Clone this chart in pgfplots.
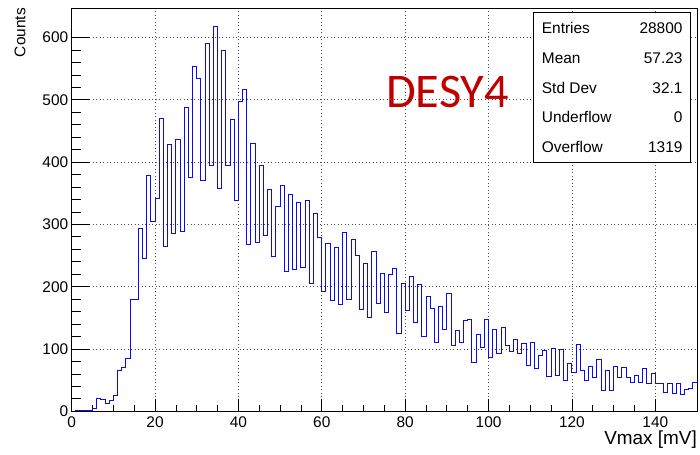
\documentclass[border=0pt]{standalone}
\usepackage{pgfplots}
\pgfplotsset{compat=1.18}
\usepackage{pgfplotstable}
\usepackage{fontspec}
\setmainfont{Liberation Sans}
\newfontfamily\carlito{Carlito}
\definecolor{histblue}{RGB}{10,10,235}
\definecolor{desyred}{RGB}{192,0,0}
\pgfplotstableread{
x y
0 0
1 1
2 1
3 2
4 1
5 5
6 21
7 19
8 13
9 17
10 25
11 65
12 70
13 85
14 179
15 179
16 294
17 245
18 378
19 304
20 341
21 470
22 264
23 428
24 286
25 437
26 288
27 488
28 375
29 553
30 534
31 370
32 590
33 394
34 618
35 358
36 580
37 394
38 468
39 339
40 498
41 517
42 268
43 430
44 271
45 394
46 283
47 356
48 248
49 328
50 362
51 225
52 348
53 228
54 335
55 231
56 338
57 205
58 317
59 279
60 193
61 270
62 178
63 263
64 172
65 287
66 180
67 275
68 250
69 163
70 237
71 150
72 257
73 173
74 221
75 158
76 220
77 229
78 125
79 205
80 162
81 216
82 142
83 203
84 120
85 184
86 165
87 110
88 168
89 132
90 189
91 105
92 129
93 111
94 146
95 148
96 79
97 124
98 102
99 148
100 87
101 132
102 92
103 134
104 106
105 96
106 116
107 92
108 109
109 74
110 111
111 69
112 90
113 97
114 56
115 101
116 58
117 100
118 50
119 77
120 62
121 107
122 66
123 50
124 72
125 55
126 83
127 33
128 66
129 33
130 72
131 55
132 70
133 55
134 47
135 57
136 46
137 68
138 45
139 60
140 45
141 45
142 30
143 44
144 28
145 45
146 27
147 35
148 36
149 46
150 46
}\histdata
\begin{document}
\begin{tikzpicture}[x=1bp,y=1bp]
\useasboundingbox (0,0) rectangle (700,455);
\begin{axis}[
  at={(71.7bp,43.7bp)}, anchor=south west,
  scale only axis, width=625.3bp, height=403bp,
  xmin=0, xmax=150, ymin=0, ymax=647,
  xtick={0,20,...,140}, minor x tick num=3,
  ytick={0,100,...,600}, yticklabels={},
  grid=major,
  major grid style={black!70, line width=0.7bp, dash pattern=on 1bp off 2.5bp},
  tick align=inside, xtick pos=bottom, ytick pos=left,
  major tick length=12bp, minor tick length=6bp,
  tick style={black, line width=0.8bp},
  ytick style={draw=none},
  xticklabel style={font=\fontsize{15.5}{15.5}\selectfont, yshift=-2bp},
  /pgf/number format/assume math mode=true,
  axis line style={line width=1bp},
]
\addplot[const plot mark left, histblue, line width=1bp, mark=none] table[x=x,y=y] {\histdata};
\end{axis}
\begin{axis}[
  at={(71.7bp,43.7bp)}, anchor=south west,
  scale only axis, width=625.3bp, height=403bp,
  xmin=0, xmax=150, ymin=0, ymax=647,
  xtick=\empty,
  ytick={0,100,...,600}, minor y tick num=4,
  tick align=inside, ytick pos=left,
  major tick length=18.75bp, minor tick length=9.4bp,
  tick style={black, line width=0.8bp},
  yticklabel style={font=\fontsize{15.5}{15.5}\selectfont},
  /pgf/number format/assume math mode=true,
  axis line style={line width=1bp},
]
\end{axis}
% axis titles
\node[rotate=90, anchor=east, inner sep=0pt, font=\fontsize{15.5}{15.5}\selectfont] at (20,447) {Counts};
\node[anchor=east, inner sep=0pt, font=\fontsize{19}{19}\selectfont] at (697,15) {Vmax [mV]};
% stats box
\filldraw[fill=white, draw=black, line width=1bp] (533,292) rectangle (690,442);
\begin{scope}[every node/.style={inner sep=0pt, font=\fontsize{15.5}{15.5}\selectfont}]
\node[anchor=base west] at (541.7,421.3) {Entries};
\node[anchor=base east] at (682.7,421.3) {28800};
\node[anchor=base west] at (541.7,391.6) {Mean};
\node[anchor=base east] at (682.7,391.6) {57.23};
\node[anchor=base west] at (541.7,361.9) {Std Dev};
\node[anchor=base east] at (682.7,361.9) {32.1};
\node[anchor=base west] at (541.7,332.2) {Underflow};
\node[anchor=base east] at (682.7,332.2) {0};
\node[anchor=base west] at (541.7,302.5) {Overflow};
\node[anchor=base east] at (682.7,302.5) {1319};
\end{scope}
\node[anchor=base west, inner sep=0pt, text=desyred, font=\carlito\fontsize{48.5}{48.5}\selectfont] at (386,347) {DESY4};
\end{tikzpicture}
\end{document}
